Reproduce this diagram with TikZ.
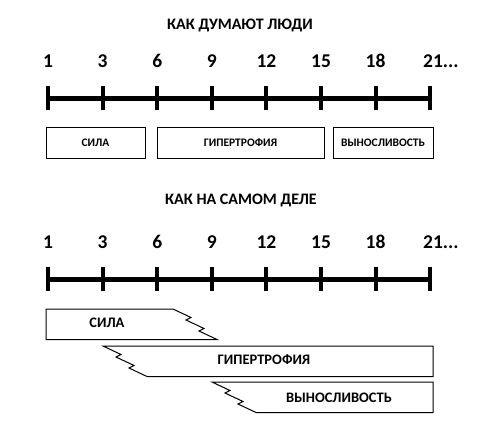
\documentclass[tikz,border=0pt]{standalone}
\usepackage{fontspec}
\setmainfont{Carlito}
\usetikzlibrary{positioning, calc}
\tikzset{
  heading/.style={font=\fontsize{16}{19}\selectfont\bfseries, inner sep=0pt},
  num/.style={font=\fontsize{19.5}{22}\selectfont\bfseries, inner sep=0pt,
              anchor=base},
  axis/.style={line width=5pt, draw=black},
  tickmark/.style={line width=4pt, draw=black},
  phase/.style={rectangle, draw=black, line width=1pt, minimum height=31pt,
                font=\fontsize{11.5}{14}\selectfont\bfseries, inner sep=0pt},
  bar/.style={draw=black, line width=1pt, fill=white},
  barlabel/.style={font=\fontsize{14.5}{17}\selectfont\bfseries, inner sep=0pt},
  tear/.style={insert path={-- ++(18,8.5) -- ++(-5,2.5) -- ++(18,8.5)
                            -- ++(-5,2.5) -- ++(18,8.5)}},
}
\def\tickgap{54.6}
\def\tickx{48}
\begin{document}
\begin{tikzpicture}[x=1pt, y=-1pt]
\useasboundingbox (0,0) rectangle (503,436);

% What people think
\node[heading] (title1) at (240,25) {КАК ДУМАЮТ ЛЮДИ};
\coordinate (axis1L) at (\tickx,98);
\coordinate (axis1R) at (430,98);
\draw[axis] (axis1L) -- (axis1R);
\foreach \v [count=\i from 0] in {1,3,6,9,12,15,18} {
  \draw[tickmark] (\tickx+\i*\tickgap,86) -- ++(0,24);
  \node[num] (numA\i) at (\tickx+\i*\tickgap,67) {\v};
}
\draw[tickmark] (430,86) -- ++(0,24);
\node[num] (numA7) at (433,67) {21\rlap{...}};

\node[phase, minimum width=99pt]  (sila1)  at (95.5,142.5) {СИЛА};
\node[phase, minimum width=167pt] (hyper1) at (240.5,142.5) {ГИПЕРТРОФИЯ};
\node[phase, minimum width=100pt] (endur1) at (383,142.5) {ВЫНОСЛИВОСТЬ};

% What really happens
\node[heading] (title2) at (241,200) {КАК НА САМОМ ДЕЛЕ};
\coordinate (axis2L) at (\tickx,279);
\coordinate (axis2R) at (430,279);
\draw[axis] (axis2L) -- (axis2R);
\foreach \v [count=\i from 0] in {1,3,6,9,12,15,18} {
  \draw[tickmark] (\tickx+\i*\tickgap,267) -- ++(0,24);
  \node[num] (numB\i) at (\tickx+\i*\tickgap,248.5) {\v};
}
\draw[tickmark] (430,267) -- ++(0,24);
\node[num] (numB7) at (433,248.5) {21\rlap{...}};

% Overlapping phases
\draw[bar] (46,309) -- (173,309) [tear] -- (46,339.5) -- cycle;
\draw[bar] (103,346) [tear] -- (433,376.5) -- (433,346) -- cycle;
\draw[bar] (212,382) [tear] -- (433,412.5) -- (433,382) -- cycle;
\node[barlabel] (sila2)  at (107,323) {СИЛА};
\node[barlabel] (hyper2) at (264,360) {ГИПЕРТРОФИЯ};
\node[barlabel] (endur2) at (339,398) {ВЫНОСЛИВОСТЬ};

\end{tikzpicture}
\end{document}
